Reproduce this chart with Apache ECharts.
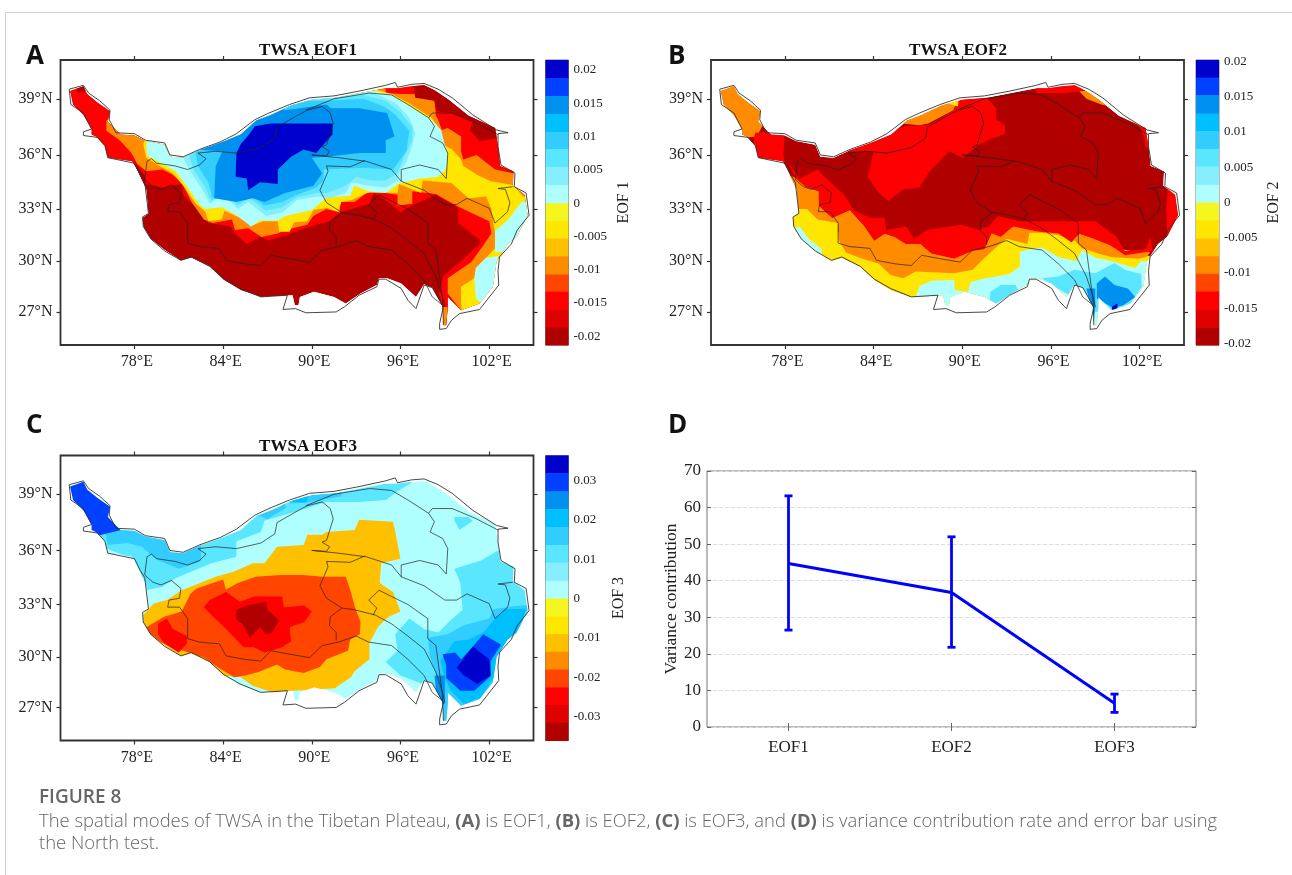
<!DOCTYPE html>
<html><head><meta charset="utf-8">
<style>html,body{margin:0;padding:0;background:#fff}#c{width:1292px;height:875px}</style>
<script src="https://cdn.jsdelivr.net/npm/echarts@6/dist/echarts.min.js"></script></head>
<body><div id="c"></div>
<script>
const palette=['#0000CD','#0040FF','#0090F0','#00BFFF','#33CCFF','#5AE6FF','#87EEFF','#B0FFFF','#F5F520','#FFE600','#FFC000','#FF8C00','#FF4500','#FF0000','#E00000','#B00000'];
const lonTicks=[78,84,90,96,102];
const latTicks=[27,30,33,36,39];
const eof1Edges=[0.0215,0.0188,0.0161,0.0134,0.0107,0.0081,0.0054,0.0027,0,-0.0027,-0.0053,-0.008,-0.0107,-0.0133,-0.016,-0.0187,-0.0213];
const eof2Edges=[0.0202,0.0177,0.0152,0.0126,0.0101,0.0076,0.0051,0.0025,0,-0.0025,-0.0051,-0.0076,-0.0101,-0.0126,-0.0152,-0.0177,-0.0202];
const eof3Edges=[0.0363,0.0318,0.0272,0.0227,0.0181,0.0136,0.0091,0.0045,0,-0.0045,-0.009,-0.0135,-0.018,-0.0225,-0.027,-0.0315,-0.036];
const eof1Ticks=[0.02,0.015,0.01,0.005,0,-0.005,-0.01,-0.015,-0.02];
const eof2Ticks=[0.02,0.015,0.01,0.005,0,-0.005,-0.01,-0.015,-0.02];
const eof3Ticks=[0.03,0.02,0.01,0,-0.01,-0.02,-0.03];
const modes=['EOF1','EOF2','EOF3'];
const variance=[44.7,36.8,6.5];
const errLow=[26.5,21.8,4];
const errHigh=[63.2,52,9];
const plateauFill=[73.65,39.4,74.55,39.65,74.8,39.25,75.5,38.8,76.35,38.35,76.2,37.8,77.05,37.1,78,37.05,78.75,36.75,80.05,36.55,80.4,35.9,81.3,35.85,82.4,36.25,83.8,36.65,85.2,37.1,86.25,37.85,87.25,38.15,88.6,38.65,90,38.95,91.65,39.05,93.3,39.3,95,39.55,95.8,39.55,96.75,39.65,97.6,39.7,98.3,39.45,99.25,38.95,100.6,38.1,102.4,37.45,102.6,36.5,102.75,35.4,103.65,35.1,103.6,34.3,104.4,33.8,104.6,32.65,103.85,31.4,103.25,31,102.5,30,102.25,28.5,101.35,27.5,100.1,27.1,99.2,27.9,99.2,27.2,99.1,26.2,98.9,26.2,98.85,27.3,98.15,28.45,97.6,28.65,97.05,27.9,96.05,28.7,95.1,29,94.55,29,94.4,28.6,93.3,28.1,92.3,27.5,91.5,27.9,90.15,28.2,89.2,27.9,89.1,27.4,88.85,27.4,88.7,28,86.55,27.9,85.2,28.3,84.05,28.9,83.1,29.7,81.85,30.2,81.15,30.05,80.05,30.65,79.1,31.3,78.6,32,78.55,32.5,78.95,32.75,78.8,34.1,78.15,35.2,77.85,35.65,76.2,35.85,76,36.5,75.4,37,75.1,37.1,75.1,37.4,74.55,38.15,73.85,38.7];
const plateauOutline=[73.59,39.5,74.55,39.7,74.9,39.3,75.65,38.9,76.35,38.4,76.3,37.9,76.75,37.2,78,37.15,78.75,36.8,80.05,36.65,80.4,36,81.3,35.9,82.4,36.3,83.8,36.7,84.9,37.15,86.15,37.9,87.1,38.25,88.5,38.7,89.85,39.05,91.5,39.15,93.2,39.4,95,39.7,95.65,39.85,95.8,39.6,96.75,39.75,97.6,39.8,98.55,39.5,99.5,39.05,100.9,38.15,102.5,37.35,103.28,37.2,102.6,37.15,102.6,36.45,102.8,35.45,103.75,35,103.7,34.25,104.5,33.9,104.7,32.65,103.9,31.8,103.5,31,102.7,30.25,102.6,29.45,102.65,28.6,101.35,27.15,100,26.9,99.45,26.5,99.1,26,98.65,25.95,98.65,26.3,98.9,27.3,98.15,28.45,97.6,28.6,97.05,27.2,96.5,27.7,96.05,28.4,95,28.95,94.55,28.95,94.4,28.5,93.2,28,92.2,27.3,91.65,27,89.6,26.95,88.9,27.2,88.05,27.15,88.35,28,86.55,27.9,85.15,28.4,84.05,28.95,83.1,29.7,81.85,30.25,81.15,30.05,80.05,30.6,79.1,31.3,78.6,32,78.55,32.55,78.95,32.75,78.7,34.5,78.4,34.9,78,35.55,76.2,35.85,76,36.5,75.5,36.95,74.55,37.05,74.55,37.25,75.1,37.4,74.55,38.25,73.7,38.7,73.59,39.5];
const basinLines=[
[78.85,35.65,79.15,35.8,79.5,35.55,80.75,35.4,81.6,35.2,82.4,35.45,82.85,35.8,82.3,36.1,83.5,36.2,84.9,36.1,86.55,36.4,87.5,36.9,87.65,37.5,88.75,38,89.7,38.4,90.7,38.6,91.25,38.25,91.45,37.7,91,36.55,90.7,36.45,91.2,36.2,91,35.95,90,36],
[90,36,91.8,35.85,93.7,35.65,95.4,35.2,96.05,34.55,97.6,34.05,99,33.25,99.8,33.25,100.5,33.6,102,33.05,102.4,32.2,103.25,32.85,103.4,33.35,103.1,34.1,102.6,34.15,103.6,34.25],
[93.6,35.7,92.6,35.35,91,35.4,91.1,35.1,90.55,34.05,91,33.35,92.05,32.8,92.9,32.7,94.3,32.4,95.4,31.9,96.5,31.2,97.6,30.45,98.4,29.1,98.85,27.9,99,27.3],
[92.05,32.8,91.25,32.3,91.2,31.8,91.65,31.4,91.65,30.95],
[81.6,31.05,82.4,30.85,83.75,30.75,84.2,30.05,85.45,29.85,86.55,29.75,87.25,30.35,88.5,30.15,89.85,29.95,90.7,30.65,91.8,30.85,93,31.2,93.85,30.85,95.4,30.65,96.5,29.85,97.6,28.9,98.15,27.9,98.85,27.4],
[81.6,31.05,81.6,32.2,81.05,32.85,80.25,32.85,80.35,33.25,81.05,33.35,81.15,33.9,80.5,34.35,79.8,34.1,79.25,34.25,78.7,34.65,78.85,35.65],
[94.15,32.4,94.4,32.8,93.85,33.25,94.55,33.8,95.4,33.45,96.5,33,97.85,32.2,97.85,31.05,98.4,30.65,98.85,27.7,98.9,26.2],
[96.05,34.55,96.05,35.2,97.3,35.45,98.55,35.2,99.1,34.7,99.2,36.1,98.85,36.65,98,37,98.3,37.55,97.9,38,98.15,38.25,99.5,38.25,101.15,37.7,102.6,37.1],
[97.9,38,96.5,38.7,95.4,39.2,93.9,39.3,91.5,39,89.6,38.4]
];
const eof1Levels=[15,13,11,9,7,6,5,4,2,0,15,15,11,7,7];
const eof1Rings=[
plateauFill,
[78.1,35.5,78.7,34.9,78.8,34.4,79.9,34.2,81.2,34.4,81.3,33.8,81.9,33.3,82.7,32.6,83,32.2,84.5,32,84.8,31.6,85.6,31,86.5,31.4,87.1,31.2,88.2,31.5,89.9,32,91.2,32.3,91.9,32.8,93.9,33.3,94.2,33.9,95,33.5,96,32.8,96.8,33.2,98.4,33.8,99,33.5,99.9,33.05,99.9,32.2,101.35,31.25,101.35,31,100,29.95,98.9,29.15,98.6,28.1,98.8,27.4,99,26,105.3,26,105.3,41,73,41,73,35.5],
[76.1,37.85,76.1,37.3,77,36.8,77.8,36.1,78.2,35.5,78.8,35.1,79.9,35.2,80.5,34.95,81.2,34.5,81.9,33.35,82.7,32.4,83.3,32.2,84.6,32.4,84.8,31.8,85.7,31.9,86.6,31.4,87.7,31.6,88.2,31.8,89.7,32.1,90.1,32.6,91,33,91.9,32.8,91.9,33.4,92.9,33.4,93.7,33.9,95,33.9,95.8,33.8,95.8,33.2,96.8,33.3,96.8,34,98.4,33.85,99.1,33.5,100,33.1,102,32.3,102.15,31.6,101.5,30.8,100.8,29.95,99.2,29,99.2,28.1,100.1,27.1,100.3,26,105.3,26,105.3,35,103.6,35,102.4,35.2,101.15,36,100.25,35.75,100.1,36.2,100.1,37,99.2,37.45,98.8,37.35,98.55,37.9,98.4,38.1,98.3,38.9,97.6,39.05,96.9,39.25,96,39.25,95,39.3,95,40.2,80,40.2,78,38,76.4,38],
[78.6,36.55,78.8,35.85,79.8,35.35,80.6,35,81.3,34.3,82.1,33.35,82.8,32.85,83,32.3,83.9,32.4,84.1,32.9,84.75,32.65,85.7,32.3,85.8,32,86.7,32.3,87.7,32.3,87.8,31.7,88.5,31.7,88.8,32.25,89.7,32.3,90.1,32.95,91,33.05,91.8,32.85,92,33.4,92.7,33.5,93.9,33.95,95.8,33.9,95.9,34.4,97.4,33.9,97.5,34.6,99.45,34.45,100.6,33.6,101.8,33.7,102.15,33,102.4,31.6,102.4,30.75,101.8,30.2,101.1,29.6,101,29,100.1,28.5,100.1,27.6,100.3,26,105.3,26,105.3,33.35,104.3,33.7,103.6,34.35,102.1,34.55,101.2,34.9,100.25,35.4,100.1,35.75,99.5,36.3,98.8,36.6,98.7,37.35,98.1,38,96.5,38.8,95.4,39.25,94.5,39.45,93.7,40,79.4,40],
[78.8,36.5,78.9,35.95,79.9,35.5,80.8,35.1,81.6,34.2,82.4,33.25,82.8,33,83.9,33.1,84.8,32.7,85.9,32,86.5,32.35,87.7,32.35,88.2,32.6,90,32.95,91,33.65,92.6,33.75,92.85,34.3,93.9,34,95,33.9,95.8,34.4,97.3,34.7,98.55,34.8,99.1,35.25,99.2,36.1,99,36.55,98.75,37.35,98.1,37.9,96.5,38.7,95.4,39.2,93.7,39.5,93.7,40,79.4,40],
[81.3,35.85,81.7,35.2,82.6,34.1,83.1,33.3,84,33.8,85,33,85.7,33.4,86.9,32.6,88,32.8,89,33.5,90.4,33.7,91.2,33.6,92.3,33.9,92.7,34.5,93.8,34.3,95,34.2,95.8,34.6,96,35.2,96.4,35.6,96.8,36.5,97,37.2,96.6,38,95.8,38.7,94.8,39.1,94,39.35,92.5,39.2,90,39,89.5,40,81,40],
[81.7,36,82,35.2,82.8,34.2,83.2,33.45,84,33.9,85,33.2,85.8,33.6,86.9,32.9,88,33.1,89,33.65,90.3,33.9,91,33.9,92.3,34.3,93,34.8,94,34.6,95,34.6,95.8,35,96.2,35.8,96.8,36.8,96.8,37.5,96,38.3,95,38.9,93.5,39.2,91,39.05,89.5,39,89,40,82,40],
[82.1,36.3,82.3,35.4,83,34.5,83.3,33.6,84.1,33.95,85,33.5,85.8,33.8,86.8,33.2,88,33.4,89,33.8,90.3,34.2,90.8,34.6,90.8,35.2,93.5,35.3,95.5,35.2,96.4,36.2,96.6,37.3,95.6,38.2,94.9,38.6,93.5,39,91,38.9,89.5,38.9,89,40,83,40],
[82.15,36.3,83.95,36.2,83.5,35.4,83.4,33.6,84.9,33.4,86,33.6,86.8,33.4,88.2,33.9,90.1,34.3,90.7,35,90,35.85,91,35.9,93.2,36.1,95,36.1,95,36.8,95.6,37,95.1,38.25,93.2,38.5,91.3,38.5,91,38.7,88.2,38.4,87,39,85,38.5,83,37,82.15,36.45],
[85.2,36.6,84.9,36.1,84.85,34.8,85.6,34.7,85.7,34.05,86.5,34.5,87.7,34.4,87.7,35.2,88.6,35.9,89.45,36.3,90.3,36.1,91.4,37.1,91.4,37.7,88.2,37.7,87.2,37.7,86.15,37.55,85.7,37.05],
[96.85,39.8,98.2,39.8,99.5,39.1,100.5,38.5,102.7,37.5,102.6,36.9,101.35,36.75,100.7,37.35,100.9,37.8,99.45,38.25,98.45,38.35,98.3,38.9,97,39.05],
[74,39.6,74.6,39.8,74.7,39.4,74.2,39.3],
[98.85,27.3,99.2,27.3,99.1,26.2,98.9,26.2],
[104.2,33.4,103.3,32.4,102.4,31.75,102.4,30.55,105,30.55,105,33.4],
[101,29,101.1,29.6,101.8,30.2,102.6,30.3,102.6,28,101.5,27.5,101.1,27.8]
];
const eof2Levels=[15,9,9,7,7,5,5,2,2,0,11,11,13,11,13,11,13,13,9,13,13];
const eof2Rings=[
plateauFill,
[78,33.5,82,31.5,86,30.5,90,31,93,32,96,32,99,31,102,30.5,103,30.2,103,25,78,25],
[78,30,78,33,79.6,33,81.6,32.2,81.6,31,82,30,80,29],
[93.9,30.55,93.9,29.7,93.2,29.25,91.25,28.95,90.55,28.75,90.4,28.2,89.5,28.3,89.45,28.9,87.9,28.85,87.1,28.55,86.85,27.9,86.85,25,105.3,25,105.3,30,102.1,30,101.7,29.6,100.15,30,99,30.2,98.1,30.65,97.7,30,96.5,30.25,95.4,30.8,94.55,30.7],
[78,31.8,79,32,79.6,31.3,80.5,30.7,80.5,30,78,30],
[91.8,27,91.9,28.2,92.6,28.6,93.6,28.6,94,28,94,27],
[96.5,29.1,97.6,29.5,99,29.3,100.3,29.9,101,29.5,102.1,29.25,102.15,28.5,101.6,27.8,101,27,98.5,27,97.05,28.1,96.05,28.6,95.4,29],
[99.1,28.7,99.65,29.1,100.3,28.6,101.2,28.4,101.7,27.9,100.9,27.4,100.2,27.25,99.1,27.8],
[98.4,28.4,99,28.4,99,27.3,98.9,26.4,98.75,26.4,98.7,27.3],
[100.1,27.3,100.5,27.5,100.5,27.05,100.2,27],
[78.7,34.75,79.4,34.25,80.3,34,80.3,33.2,81.2,32.5,82.4,32.95,83.4,32,84.05,31.2,84.75,31.6,85.45,31.4,86.2,31,87.2,31,87.9,30.45,89.45,30.15,90.7,30.6,91.5,30.7,92,31.6,92.6,31.4,93.45,32,94.55,31.8,95.2,31.7,96.5,31.6,97.4,31.1,97.9,31.6,98.8,31.35,100,30.95,101,30.35,102.4,30.7,102.7,30.5,102.45,30.25,101.9,30.15,100.05,30.25,99.2,30.45,98.1,30.75,97.6,31.2,96.5,31.5,95.4,31.65,94.55,31.65,94.4,31,93,31.3,92.35,30.85,91.4,30.1,90.7,29.5,89.45,29.3,86.85,29.4,86,29,85.15,29.2,84.35,29.85,83.25,30.15,82.15,30.5,81.65,31.2,81.6,32.2,80.2,32.4,79.5,33,78,33,78,35],
[73.3,40,75,40,76.7,37.9,76.1,37,75,36.9,73,38.5],
[78.3,35.5,79,34.7,80.2,35.2,81.2,34.4,82,33.8,82.7,32.9,83.8,32.5,84.75,32.5,84.85,31.8,86.2,32,86.75,31.3,87.6,31.8,90,32.1,91.1,31.8,91.8,32,92.4,32.6,93.9,32.3,95.1,32.3,96.8,32.3,98.1,32.3,99,32.3,100.4,31.45,101,30.6,102.4,30.7,102.7,31.4,102.9,30.6,101,30.35,100,30.95,98.8,31.35,97.9,31.6,97.4,31.1,96.5,31.6,95.2,31.7,94.55,31.8,93.45,32,92.6,31.4,92,31.6,91.5,30.7,90.7,30.6,89.45,30.15,87.9,30.45,87.2,31,86.2,31,85.45,31.4,84.75,31.6,84.05,31.2,83.4,32,82.4,32.95,81.2,32.5,80.3,33.2,80.3,34,79.4,34.25,78.7,34.75],
[85.9,37.7,87.1,37.6,87.7,37.7,89.4,38.4,89.8,39.2,87,39,86,38.4],
[76,37.2,78,37.3,77.9,36,78,35.6,76,35.6,75.9,36.9],
[97.9,39.4,98.5,39.4,99.3,39.1,102.5,37.7,102.5,37.3,101.5,37.8,100,38.6,99.4,38.7,98.4,39],
[84,36.2,83.6,34.8,84.3,33.95,85,33.45,86,34.1,87.1,34.2,87.8,35.1,89.1,36.2,90.05,35.85,91,36.5,91.9,36.85,92.9,37.15,92.9,37.6,92.3,37.9,92.3,38.5,91.5,39.2,89.85,39.2,89.45,38.4,88.6,38,87.65,37.6,87.1,37.6,86.15,37.55,84,37.1,82.4,36.65,82.1,36.2],
[95,39.9,98.1,39.9,98.1,39.4,97,39.3,95,39.3],
[88.5,38.9,89.7,38.6,89.8,39.3,88.5,39.2],
[102,37.5,102.8,37.5,102.8,36.3,102.4,36.4,102.3,37],
[103.9,34.5,104.8,34.5,104.8,32.2,103.9,31.4,103.8,32.5]
];
const eof3Levels=[7,5,4,4,4,3,5,5,4,3,1,0,2,1,10,12,13,13,15];
const eof3Rings=[
plateauFill,
[75.5,37.1,75.8,36.2,78,35.5,78.8,33.8,79.9,34,80.75,34.45,83.2,35.3,84.9,35.65,84.9,36.5,86.55,37,86.8,37.6,88.75,38.05,91,38.6,93.2,38.6,95,38.7,95.8,39.15,96.75,39.6,94.6,40.3,75,40.3],
[76,37.2,76.2,36.3,77.5,36.4,78.5,36.2,79.5,35.5,81,35,82.5,35.4,82.5,36.4,81,36.1,80.4,36.9,78.5,37.2],
[86,38,87,37.7,88.3,38.3,88,38.7,86.5,38.5],
[88.5,38.5,89.8,38.6,92,38.9,92,39.5,88.5,39.5],
[88.7,38.6,89.6,38.55,89.8,38.95,88.9,39],
[99.65,37.8,100.6,37.8,100.9,37.6,100,37.1,99.65,37.6],
[99.65,35,101.45,35.45,102.6,36,105,36,105,26,98.7,26,98.4,28,97.2,28.5,96,28.9,95,29.7,95.8,30.35,95.65,31.3,96.6,32.2,97.6,31.6,98.55,31.4,99.4,32.1,100.2,32.7,100.05,34.2],
[97.85,31.1,99.2,31.3,100.25,31.8,102,32.2,102.3,32.75,103.7,32.9,105,33,105,26,98.7,26,98.7,27.6,98.4,29,98,30],
[98.7,29.75,99.65,30.9,100.6,31,101.6,31.4,102.3,32.1,103.1,32.75,104.5,32.75,104,31.3,102.45,29.75,102.45,29,101.45,27.6,100.3,27.2,99.4,28,99,28.75],
[98.85,30.15,99.7,30.25,100.1,29.85,100.9,30.6,101.6,31.3,102.8,30.7,102.1,29.75,102.1,28.85,101,28,100.05,28,99.1,28.75,99.1,29.5],
[99.8,29.35,100.9,30.6,102,29.85,102.1,28.9,101.2,28.4,100.3,28.9],
[98.3,28.9,99,28.9,99,27.2,98.5,27.2],
[73,40.5,75,40.5,77.1,37.1,75.5,36.8,73,38.3],
[78.6,32.4,79.3,33.05,80.2,33.25,81.2,33.8,83.5,34.55,84.75,34.85,86,35.3,86.8,35.3,87.65,36.2,89.45,36.3,89.7,36.85,90.7,36.85,91,37,92.9,37.1,93.2,37.65,95.5,37.55,95.65,37,96,35.55,94.7,35.3,94.6,34.2,95.5,33.7,96,32.6,95.2,32.3,94.5,31.75,93.9,30.8,93.9,29.85,92.9,29.15,92.65,28.8,91.55,28.15,88.75,28,87.4,27.9,86,28.3,85.2,28.8,82.7,29,78.6,30.2],
[78.8,31.7,80,32.3,81.2,32.6,81.8,33.6,82.2,33.9,84,34.4,84.2,33.85,85,34.2,86.2,34.55,87.9,34.65,89.45,34.65,90.7,34.55,92.3,34.55,92.6,33.85,92.9,32.9,93.3,32,93.25,31.3,92.6,31,92.45,30.35,91,29.85,90.55,29.4,89.45,29.05,88.2,29.25,87.65,29.55,86.4,29.1,85.5,28.9,84.75,28.8,83.8,29.3,82.7,29.95,81.3,30.35,79.9,30.8,78.8,31.2],
[82.7,32.85,83.1,33.25,84.2,33.7,85.15,33.15,86.1,33.45,88,33.45,88.1,32.85,89.5,32.95,90,32.6,89.5,32,88.5,31.7,88.6,30.9,88,30.55,86.8,30.25,86.1,30.55,85.4,30.55,84.2,31.6,83.4,32.25],
[79.6,31.9,80.2,32.2,80.6,31.6,81.55,31.2,81.55,30.75,81,30.25,80.05,30.75,79.6,31.3],
[84.9,32.7,85.6,32.95,86.9,33.15,87,32.7,87.8,32.1,87.3,31.4,86.9,31.3,86.5,31.7,85.8,31.1,85.3,31.9,84.9,32.1]
];
const mapTitles=['TWSA EOF1','TWSA EOF2','TWSA EOF3'];
const barNames=['EOF 1','EOF 2','EOF 3'];
const panelLetters=['A','B','C','D'];

const merc=lat=>Math.log(Math.tan(Math.PI/4+lat*Math.PI/360));
const serif='"Liberation Serif","Times New Roman",serif';
const ink='#222';
const pairs=f=>{const o=[];for(let i=0;i<f.length;i+=2)o.push([f[i],f[i+1]]);return o;};

const maps=[
 {x:60.5,y:60,levels:eof1Levels,rings:eof1Rings,edges:eof1Edges,ticks:eof1Ticks,tx:308,ty:42,nameGap:47},
 {x:711,y:60,levels:eof2Levels,rings:eof2Rings,edges:eof2Edges,ticks:eof2Ticks,tx:958,ty:42,nameGap:47},
 {x:60.5,y:455.5,levels:eof3Levels,rings:eof3Rings,edges:eof3Edges,ticks:eof3Ticks,tx:308,ty:438,nameGap:42}
];
const W=473,H=285;
const grid=[],xAxis=[],yAxis=[],series=[],title=[];
const latLabel=v=>{const l=latTicks.find(t=>Math.abs(merc(t)-v)<1e-6);return l===undefined?'':l+'°N';};
const mercTicks=latTicks.map(merc);

maps.forEach((m,i)=>{
 const gi=grid.length;
 grid.push({left:m.x,top:m.y,width:W,height:H,show:true,borderColor:'#333',borderWidth:1.8,backgroundColor:'#fff'});
 const xi=xAxis.length,yi=yAxis.length;
 [['bottom',true],['top',false]].forEach(([pos,lab])=>xAxis.push({type:'value',gridIndex:gi,position:pos,min:73,max:105,
   axisLine:{show:false},splitLine:{show:false},
   axisTick:{show:true,length:4,lineStyle:{color:'#333',width:1.2},customValues:lonTicks},
   axisLabel:{show:lab,customValues:lonTicks,formatter:v=>v+'°E',color:ink,fontFamily:serif,fontSize:16,margin:9,padding:[0,0,0,5]}}));
 [['left',true],['right',false]].forEach(([pos,lab])=>yAxis.push({type:'value',gridIndex:gi,position:pos,min:merc(25),max:merc(41),
   axisLine:{show:false},splitLine:{show:false},
   axisTick:{show:true,length:4,lineStyle:{color:'#333',width:1.2},customValues:mercTicks},
   axisLabel:{show:lab,customValues:mercTicks,formatter:latLabel,color:ink,fontFamily:serif,fontSize:16,margin:8}}));
 const clipPts=pairs(plateauFill);
 series.push({type:'custom',xAxisIndex:xi,yAxisIndex:yi,z:2,silent:true,clip:true,
   data:m.rings.map((r,k)=>[r[0],merc(r[1]),k]),
   renderItem:(p,api)=>{
     const r=pairs(m.rings[p.dataIndex]).map(q=>api.coord([q[0],merc(q[1])]));
     return {type:'polygon',shape:{points:r},style:{fill:palette[m.levels[p.dataIndex]],stroke:null},
       clipPath:{type:'polygon',shape:{points:clipPts.map(q=>api.coord([q[0],merc(q[1])]))}}};
   }});
 const lineData=[];
 basinLines.forEach(b=>{pairs(b).forEach(q=>lineData.push([q[0],merc(q[1])]));lineData.push(['-','-']);});
 series.push({type:'line',xAxisIndex:xi,yAxisIndex:yi,z:3,silent:true,showSymbol:false,symbol:'none',connectNulls:false,data:lineData,lineStyle:{color:'#222',width:0.7}});
 series.push({type:'line',xAxisIndex:xi,yAxisIndex:yi,z:3,silent:true,showSymbol:false,symbol:'none',data:pairs(plateauOutline).map(q=>[q[0],merc(q[1])]),lineStyle:{color:'#333',width:0.9}});
 title.push({text:mapTitles[i],left:m.tx,top:m.ty,textAlign:'center',textStyle:{fontFamily:serif,fontWeight:'bold',fontSize:17,color:'#111'},padding:0});
 const cg=grid.length;
 grid.push({left:m.x+485,top:m.y,width:23,height:H,show:true,borderColor:'#555',borderWidth:0.8});
 const cx=xAxis.length,cy=yAxis.length;
 xAxis.push({type:'value',gridIndex:cg,min:0,max:1,show:false});
 yAxis.push({type:'value',gridIndex:cg,position:'right',min:m.edges[m.edges.length-1],max:m.edges[0],
   axisLine:{show:false},splitLine:{show:false},
   axisTick:{show:true,length:3,lineStyle:{color:'#555',width:0.8},customValues:m.ticks},
   axisLabel:{customValues:m.ticks,formatter:v=>String(v),color:ink,fontFamily:serif,fontSize:13,margin:5},
   name:barNames[i],nameLocation:'middle',nameRotate:90,nameGap:m.nameGap,nameTextStyle:{fontFamily:serif,fontSize:16,color:ink}});
 series.push({type:'custom',xAxisIndex:cx,yAxisIndex:cy,silent:true,z:2,
   data:m.edges.slice(0,-1).map((e,k)=>[0,e,m.edges[k+1]]),
   renderItem:(p,api)=>{
     const a=api.coord([0,api.value(1)]),b=api.coord([1,api.value(2)]);
     return {type:'rect',shape:{x:a[0],y:a[1],width:b[0]-a[0],height:b[1]-a[1]+0.5},style:{fill:palette[p.dataIndex]}};
   }});
});

const dg=grid.length;
grid.push({left:707,top:471,width:489,height:256,show:true,borderColor:'#777',borderWidth:1});
const dx=xAxis.length,dy=yAxis.length;
const dash={show:true,lineStyle:{color:'#ddd',type:'dashed',width:1}};
xAxis.push({type:'category',gridIndex:dg,data:modes,position:'bottom',axisLine:{show:false},
  axisTick:{show:true,inside:true,alignWithLabel:true,length:4,lineStyle:{color:'#666'}},splitLine:{show:false},
  axisLabel:{color:ink,fontFamily:serif,fontSize:17,margin:12}});
xAxis.push({type:'category',gridIndex:dg,data:modes,position:'top',axisLine:{show:false},axisLabel:{show:false},
  axisTick:{show:true,inside:true,alignWithLabel:true,length:4,lineStyle:{color:'#666'}},splitLine:{show:false}});
yAxis.push({type:'value',gridIndex:dg,min:0,max:70,interval:10,position:'left',axisLine:{show:false},
  axisTick:{show:true,inside:true,length:4,lineStyle:{color:'#666'}},splitLine:dash,
  axisLabel:{color:ink,fontFamily:serif,fontSize:17,margin:6},
  name:'Variance contribution',nameLocation:'middle',nameGap:26,nameTextStyle:{fontFamily:serif,fontSize:17.5,color:ink}});
yAxis.push({type:'value',gridIndex:dg,min:0,max:70,interval:10,position:'right',axisLine:{show:false},axisLabel:{show:false},
  axisTick:{show:true,inside:true,length:4,lineStyle:{color:'#666'}},splitLine:{show:false}});
series.push({type:'custom',xAxisIndex:dx,yAxisIndex:dy,z:4,silent:true,
  data:modes.map((m,i)=>[i,errLow[i],errHigh[i]]),
  renderItem:(p,api)=>{
    const lo=api.coord([api.value(0),api.value(1)]),hi=api.coord([api.value(0),api.value(2)]);
    const st={stroke:'#0000FF',lineWidth:2.8};
    return {type:'group',children:[
      {type:'line',shape:{x1:lo[0],y1:lo[1],x2:hi[0],y2:hi[1]},style:st},
      {type:'line',shape:{x1:lo[0]-4,y1:lo[1],x2:lo[0]+4,y2:lo[1]},style:st},
      {type:'line',shape:{x1:hi[0]-4,y1:hi[1],x2:hi[0]+4,y2:hi[1]},style:st}]};
  }});
series.push({type:'line',xAxisIndex:dx,yAxisIndex:dy,z:5,silent:true,symbol:'none',data:variance,lineStyle:{color:'#0000FF',width:3}});

const lp=[[26,44],[668,44],[26,413],[668,413]];
panelLetters.forEach((l,i)=>title.push({text:l,left:lp[i][0],top:lp[i][1],padding:0,textStyle:{fontFamily:'"Open Sans"',fontWeight:'bold',fontSize:26,color:'#111'}}));

const capBase={fontFamily:'"Open Sans"',fontSize:18.4,fontWeight:300,fill:'#666'};
const chart=echarts.init(document.getElementById('c'));
chart.setOption({animation:false,backgroundColor:'#fff',title,grid,xAxis,yAxis,series,
 graphic:[
  {type:'polyline',shape:{points:[[1292,12.5],[5.5,12.5],[5.5,875]]},style:{stroke:'#cfcfcf',lineWidth:1,fill:null},silent:true},
  {type:'text',left:39,top:788,style:{text:'FIGURE 8',font:'600 19px "Open Sans"',fill:'#666'}},
  {type:'text',left:39,top:813,style:{text:'The spatial modes of TWSA in the Tibetan Plateau, {b|(A)} is EOF1, {b|(B)} is EOF2, {b|(C)} is EOF3, and {b|(D)} is variance contribution rate and error bar using',...capBase,rich:{b:{fontFamily:'"Open Sans"',fontSize:18.4,fontWeight:'bold',fill:'#666'}}}},
  {type:'text',left:39,top:835,style:{text:'the North test.',...capBase}}
 ]});
</script></body></html>
